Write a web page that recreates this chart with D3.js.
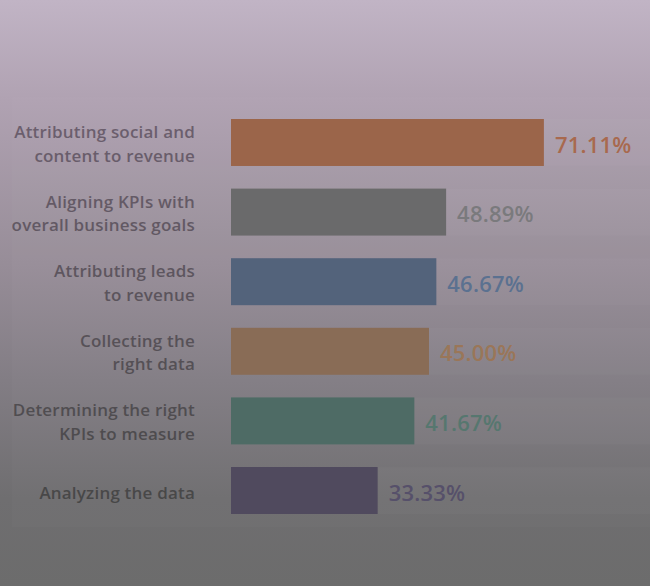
<!DOCTYPE html>
<html>
<head>
<meta charset="utf-8">
<script src="https://cdn.jsdelivr.net/npm/d3@7"></script>
<style>
  html, body { margin: 0; padding: 0; background: #6e6e6e; }
  svg { display: block; }
</style>
</head>
<body>
<script>
const width = 650
const height = 586

/* Chart data. */
const categories = [
  "Attributing social and content to revenue",
  "Aligning KPIs with overall business goals",
  "Attributing leads to revenue",
  "Collecting the right data",
  "Determining the right KPIs to measure",
  "Analyzing the data"
]
const labelLines = [
  ["Attributing social and", "content to revenue"],
  ["Aligning KPIs with", "overall business goals"],
  ["Attributing leads", "to revenue"],
  ["Collecting the", "right data"],
  ["Determining the right", "KPIs to measure"],
  ["Analyzing the data"]
]
const values = [71.11, 48.89, 46.67, 45.00, 41.67, 33.33]
const valueLabels = ["71.11%", "48.89%", "46.67%", "45.00%", "41.67%", "33.33%"]

const barColors = ["#9b654a", "#6a6a6b", "#53637b", "#896c56", "#4e6b65", "#504a5e"]
const textColors = ["#a8694e", "#7a7a7d", "#5b7190", "#9a7658", "#56776f", "#56506a"]

/* Create svg-element. */
const svg = d3.select("body")
  .append("svg")
  .attr("width", width)
  .attr("height", height)

const defs = svg.append("defs")

/* Background gradient: purple at the top fading to gray. */
const bg = defs.append("linearGradient")
  .attr("id", "bg")
  .attr("x1", 0).attr("y1", 0).attr("x2", 0).attr("y2", 1)
bg.selectAll("stop")
  .data([
    [0, "#c1b4c5"], [0.17, "#b0a2b2"], [0.45, "#978d98"],
    [0.65, "#827d84"], [0.85, "#6f6e70"], [1, "#6c6c6c"]
  ])
  .join("stop")
  .attr("offset", d => d[0])
  .attr("stop-color", d => d[1])

/* Category text gets darker going down. */
const lab = defs.append("linearGradient")
  .attr("id", "lab")
  .attr("gradientUnits", "userSpaceOnUse")
  .attr("x1", 0).attr("y1", 120).attr("x2", 0).attr("y2", 505)
lab.append("stop").attr("offset", 0).attr("stop-color", "#6c5f6e")
lab.append("stop").attr("offset", 1).attr("stop-color", "#474747")

defs.append("clipPath")
  .attr("id", "panel-clip")
  .append("rect")
  .attr("x", 12).attr("y", 97)
  .attr("width", width - 12).attr("height", height - 97)

svg.append("rect")
  .attr("width", width)
  .attr("height", height)
  .attr("fill", "url(#bg)")

/* Slightly lighter panel the chart sits on. */
svg.append("rect")
  .attr("x", 12).attr("y", 97)
  .attr("width", width - 12).attr("height", 430)
  .attr("fill", "#fff")
  .attr("opacity", 0.02)

/* Scales. */
const x = d3.scaleLinear()
  .domain([0, 100])
  .range([231, 671])

const y = d3.scaleBand()
  .domain(categories)
  .range([119, 514])
  .paddingInner(0.325)
  .paddingOuter(0)

const g = svg.append("g")
  .attr("clip-path", "url(#panel-clip)")

/* Faint row bands behind the bars. */
g.selectAll("rect.band")
  .data(categories)
  .join("rect")
  .attr("class", "band")
  .attr("x", x(0))
  .attr("y", d => y(d))
  .attr("width", width - x(0))
  .attr("height", y.bandwidth())
  .attr("fill", "#fff")
  .attr("opacity", 0.025)

/* Bars. */
g.selectAll("rect.bar")
  .data(categories)
  .join("rect")
  .attr("class", "bar")
  .attr("x", x(0))
  .attr("y", d => y(d))
  .attr("width", (d, i) => x(values[i]) - x(0))
  .attr("height", y.bandwidth())
  .attr("fill", (d, i) => barColors[i])

/* Value labels. */
g.selectAll("text.value")
  .data(categories)
  .join("text")
  .attr("class", "value")
  .attr("x", (d, i) => x(values[i]) + 11)
  .attr("y", d => y(d) + 33.5)
  .attr("fill", (d, i) => textColors[i])
  .style("font-family", "'Open Sans', sans-serif")
  .style("font-weight", 600)
  .style("font-size", "22px")
  .style("letter-spacing", "0.2px")
  .text((d, i) => valueLabels[i])

/* Category labels, right aligned next to the bars. */
const labels = g.selectAll("text.cat")
  .data(categories)
  .join("text")
  .attr("class", "cat")
  .attr("text-anchor", "end")
  .attr("fill", "url(#lab)")
  .style("font-family", "'Open Sans', sans-serif")
  .style("font-weight", 600)
  .style("font-size", "17px")
  .style("letter-spacing", "0.2px")

labels.each(function(d, i) {
  const lines = labelLines[i]
  const top = y(d)
  d3.select(this).selectAll("tspan")
    .data(lines)
    .join("tspan")
    .attr("x", 195)
    .attr("y", (l, j) => lines.length === 1 ? top + 31.5 : top + 19 + j * 23.5)
    .text(l => l)
})
</script>
</body>
</html>
